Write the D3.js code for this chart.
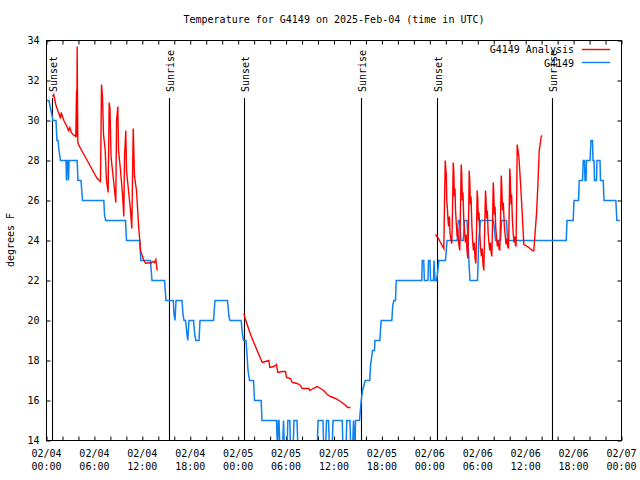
<!DOCTYPE html>
<html><head><meta charset="utf-8">
<script src="https://cdn.jsdelivr.net/npm/d3@7"></script>
<style>
body{margin:0;background:#fff}
svg text{font-family:"DejaVu Sans Mono",monospace;font-size:10px;fill:#000}
</style>
</head><body><svg id="c" width="640" height="480"></svg>
<script>
// ---- data (hours since 2025-02-04 00:00 UTC, degrees F) ----
const titleText = "Temperature for G4149 on 2025-Feb-04 (time in UTC)";
const yLabel = "degrees F";
const xMajorHours = [0,6,12,18,24,30,36,42,48,54,60,66,72];
const xTickDates = ["02/04","02/04","02/04","02/04","02/05","02/05","02/05","02/05","02/06","02/06","02/06","02/06","02/07"];
const xTickTimes = ["00:00","06:00","12:00","18:00","00:00","06:00","12:00","18:00","00:00","06:00","12:00","18:00","00:00"];
const yTicks = [14,16,18,20,22,24,26,28,30,32,34];
const sunHours = [0.75,15.28,24.79,39.32,48.84,63.24];
const sunLabels = ["Sunset","Sunrise","Sunset","Sunrise","Sunset","Sunrise"];
const seriesNames = ["G4149 Analysis","G4149"];

const observed = [[0,31],[0.31,31],[0.56,30.5],[0.81,30],[1.19,30],[1.31,29],[1.44,29],[1.57,28.5],[1.75,28],[2.44,28],[2.5,27],[2.6,28],[2.69,28],[2.75,27],[2.83,28],[2.92,28],[3.84,28],[3.94,27],[4.32,27],[4.51,26],[7.18,26],[7.26,25.3],[7.41,25],[9.89,25],[10.02,24],[11.68,24],[11.81,23],[13.02,23],[13.21,22],[14.78,22],[14.96,21],[15.87,21],[15.97,20.3],[16.09,20],[16.22,21],[16.97,21],[17.09,20.3],[17.22,20],[17.41,20],[17.59,19.3],[17.69,19],[17.84,20],[18.41,20],[18.56,19.3],[18.7,19],[19.1,19],[19.22,20],[20.91,20],[21.1,21],[22.66,21],[22.85,20.2],[22.98,20],[24.38,20],[24.54,19.3],[24.67,19],[24.98,19],[25.11,18.3],[25.23,17.5],[25.42,17],[25.92,17],[26.05,16],[26.88,16],[26.98,15],[28.8,15],[28.93,13.5],[29.03,15],[29.11,15],[29.24,13.5],[29.55,13.5],[29.68,15],[29.8,13.5],[30.12,13.5],[30.22,15],[30.47,15],[30.55,13.5],[30.87,13.5],[30.99,15],[31.37,15],[31.49,13.5],[33.9,13.5],[34.0,15],[34.62,15],[34.72,13.5],[34.94,13.5],[35.06,15],[35.31,15],[35.44,13.5],[35.75,13.5],[35.88,15],[37.03,15],[37.13,13.5],[37.5,13.5],[37.6,15],[38.0,15],[38.1,13.5],[38.32,13.5],[38.44,15],[38.63,13.5],[38.69,15],[39.19,15],[39.41,16],[39.57,16.5],[39.91,17],[40.48,17],[40.57,17.75],[40.66,18],[40.82,18.5],[41.07,18.5],[41.13,19],[41.74,19],[41.82,19.5],[41.91,20],[43.24,20],[43.36,20.75],[43.49,21],[43.7,21],[43.79,22],[46.99,22],[47.05,23],[47.24,23],[47.31,22],[47.77,22],[47.83,23],[48.02,23],[48.09,22],[48.46,22],[48.52,23],[48.65,22],[48.84,22],[49.0,22.5],[49.12,23],[49.96,23],[50.15,24],[51.43,24],[51.5,24.75],[51.59,25],[51.72,25],[51.9,24],[52.18,24],[52.34,25],[52.66,25],[52.78,24],[52.91,22.8],[53.03,22],[53.97,22],[54.13,24],[54.35,25],[55.97,25],[56.1,24.5],[56.22,24],[56.85,24],[56.98,25],[57.6,25],[57.73,24],[65.08,24],[65.18,25],[65.95,25],[66.05,26],[66.62,26],[66.71,27],[67.12,27],[67.21,28],[67.37,28],[67.43,27],[67.56,27],[67.62,28],[67.87,28],[68.06,28],[68.18,29],[68.37,29],[68.43,28],[68.56,28],[68.62,27],[68.87,27],[68.93,28],[69.31,28],[69.37,27],[69.71,27],[69.81,26],[71.29,26],[71.42,25],[71.79,25]];

const analysisDay1 = [[0.75,31.2],[0.91,31.3],[1.16,30.8],[1.41,30.5],[1.59,30.3],[1.75,30.1],[1.84,30.4],[2.0,30.2],[2.17,30.0],[2.5,29.75],[2.75,29.5],[2.92,29.65],[3.09,29.4],[3.34,29.3],[3.67,29.2],[3.76,31.5],[3.79,29.2],[3.84,33.7],[3.92,28.9],[4.26,28.6],[5.1,28.0],[5.92,27.4],[6.35,27.1],[6.76,26.95],[6.89,31.8],[7.01,31.2],[7.14,29.3],[7.35,28.5],[7.51,27.0],[7.72,26.4],[7.76,27.8],[7.85,30.9],[7.95,30.6],[8.08,28.2],[8.26,27.5],[8.45,26.8],[8.68,25.9],[8.77,30.0],[8.93,30.7],[9.02,28.5],[9.27,27.5],[9.52,26.3],[9.68,25.2],[9.77,28.2],[9.93,29.5],[10.02,27.5],[10.27,26.5],[10.52,25.5],[10.68,24.6],[10.86,29.6],[11.02,27.2],[11.27,26.5],[11.52,24.8],[11.68,24.0],[11.77,23.5],[11.98,23.25],[12.18,23.0],[12.43,22.85],[12.81,22.9],[13.02,22.85],[13.27,22.95],[13.52,22.9],[13.69,23.05],[13.86,22.5]];

const analysisDay2 = [[24.71,20.35],[24.88,20.1],[25.13,19.8],[25.55,19.3],[25.96,18.9],[26.38,18.5],[26.8,18.1],[27.01,17.9],[27.42,17.95],[27.84,18.0],[27.96,17.65],[28.46,17.7],[28.8,17.8],[28.96,17.4],[29.52,17.45],[29.93,17.45],[30.05,17.15],[30.55,17.1],[30.77,16.9],[31.39,16.85],[31.81,16.75],[32.02,16.6],[32.85,16.6],[32.97,16.5],[33.4,16.6],[33.9,16.7],[34.31,16.6],[34.72,16.5],[35.15,16.3],[35.56,16.2],[36.19,16.1],[36.81,15.95],[37.32,15.8],[37.73,15.65],[38.07,15.65]];

const analysisDay3 = [[48.71,24.3],[49.0,24.15],[49.34,23.9],[49.75,23.6],
[49.84,25.9],[49.93,28.0],[50.0,27.6],[50.06,27.3],[50.12,26.0],[50.2,25.6],[50.28,25.0],[50.35,24.7],[50.45,25.2],[50.52,24.4],[50.62,24.1],[50.75,23.85],
[50.84,25.5],[50.93,27.9],[51.0,27.5],[51.07,26.2],[51.15,26.6],[51.22,25.5],[51.32,24.8],[51.42,24.2],[51.5,24.6],[51.6,23.9],[51.75,23.5],
[51.84,25.6],[51.93,27.8],[52.0,27.3],[52.07,26.0],[52.15,26.4],[52.25,25.0],[52.35,24.5],[52.45,23.9],[52.55,24.3],[52.65,23.5],[52.76,23.1],
[52.85,25.0],[52.93,27.5],[53.0,27.0],[53.08,25.8],[53.16,26.2],[53.26,24.8],[53.36,24.0],[53.46,23.5],[53.56,23.9],[53.66,23.1],[53.76,22.85],
[53.85,24.5],[53.93,26.5],[54.0,26.1],[54.08,25.0],[54.16,25.4],[54.26,24.3],[54.36,23.6],[54.46,23.2],[54.56,23.6],[54.66,22.8],[54.76,22.5],
[54.86,24.4],[54.97,26.5],[55.04,26.0],[55.12,25.1],[55.2,25.5],[55.3,24.4],[55.4,23.9],[55.5,23.5],[55.58,23.9],[55.68,23.4],[55.76,23.2],
[55.85,24.8],[55.94,26.9],[56.0,26.5],[56.08,25.3],[56.16,25.7],[56.26,24.6],[56.36,24.1],[56.46,23.7],[56.56,24.0],[56.66,23.6],[56.76,23.5],
[56.85,25.0],[56.94,27.25],[57.0,26.8],[57.1,25.5],[57.2,25.9],[57.32,24.8],[57.45,24.2],[57.55,23.8],[57.65,24.1],[57.75,23.7],[57.85,23.6],
[57.93,25.2],[58.01,27.6],[58.08,27.1],[58.16,25.8],[58.24,26.3],[58.34,25.0],[58.45,24.3],[58.55,23.9],[58.65,24.2],[58.72,23.8],[58.79,23.7],
[58.87,26.0],[58.94,28.8],[59.15,28.2],[59.36,26.85],[59.57,25.35],[59.77,23.8],[60.4,23.65],[60.82,23.5],[61.02,23.5],[61.11,24.0],[61.36,25.35],[61.52,26.7],[61.7,28.5],[61.95,29.2],[62.07,29.25]];

// ---- drawing ----
const svg = d3.select("#c");
const L = 46.5, R = 621.5, T = 40.5, B = 440.5;
const x = d3.scaleLinear().domain([0,72]).range([L,R]);
const y = d3.scaleLinear().domain([14,34]).range([B,T]);
const minorHours = d3.range(0,73,2);

svg.append("defs").append("clipPath").attr("id","clip")
  .append("rect").attr("x",L).attr("y",T).attr("width",R-L).attr("height",B-T);

// title
svg.append("text").attr("x",(L+R)/2).attr("y",23).attr("text-anchor","middle").text(titleText);
// y label
svg.append("text").attr("transform","translate(14,240) rotate(-90)").attr("text-anchor","middle").text(yLabel);

// axes
const axB = d3.axisBottom(x).tickValues(minorHours).tickSizeInner(-4).tickSizeOuter(0).tickFormat("");
const axT = d3.axisTop(x).tickValues(minorHours).tickSizeInner(-4).tickSizeOuter(0).tickFormat("");
const axL = d3.axisLeft(y).tickValues(yTicks).tickSizeInner(-4).tickSizeOuter(0).tickPadding(7).tickFormat(d3.format("d"));
const axR = d3.axisRight(y).tickValues(yTicks).tickSizeInner(-4).tickSizeOuter(0).tickFormat("");
function styleAxis(g){ g.select(".domain").remove(); g.selectAll("line").attr("stroke","#000"); g.selectAll("text").attr("font-family",null).attr("font-size",null).attr("fill","#000"); }
svg.append("g").attr("transform",`translate(0,${B})`).call(axB).call(styleAxis);
svg.append("g").attr("transform",`translate(0,${T})`).call(axT).call(styleAxis);
svg.append("g").attr("transform",`translate(${L},0)`).call(axL).call(styleAxis);
svg.append("g").attr("transform",`translate(${R},0)`).call(axR).call(styleAxis);

// x labels (two lines)
const xl = svg.append("g");
xMajorHours.forEach((h,i)=>{
  const t = xl.append("text").attr("text-anchor","middle");
  t.append("tspan").attr("x",x(h)).attr("y",457).text(xTickDates[i]);
  t.append("tspan").attr("x",x(h)).attr("y",470).text(xTickTimes[i]);
});

// sunrise / sunset
sunHours.forEach((h,i)=>{
  const xx = Math.round(x(h)) + 0.5;
  svg.append("line").attr("x1",xx).attr("x2",xx).attr("y1",98).attr("y2",B).attr("stroke","#000").attr("stroke-width",1.1);
  svg.append("text").attr("transform",`translate(${xx+4.5},92) rotate(-90)`).attr("text-anchor","start").text(sunLabels[i]);
});

// series
const line = d3.line().x(d=>x(d[0])).y(d=>y(d[1]));
const plot = svg.append("g").attr("clip-path","url(#clip)");
const blue = "#0d80f2", red = "#ff0000";
plot.append("path").datum(observed).attr("d",line).attr("fill","none").attr("stroke",blue).attr("stroke-width",1.5);
[analysisDay1,analysisDay2,analysisDay3].forEach(seg=>{
  plot.append("path").datum(seg).attr("d",line).attr("fill","none").attr("stroke",red).attr("stroke-width",1.4);
});

// border
svg.append("rect").attr("x",L).attr("y",T).attr("width",R-L).attr("height",B-T).attr("fill","none").attr("stroke","#000").attr("stroke-width",1);

// legend
const leg = svg.append("g");
[[seriesNames[0],red,53,49.5],[seriesNames[1],blue,67,62.5]].forEach(([name,c,ty,ly])=>{
  leg.append("text").attr("x",574).attr("y",ty).attr("text-anchor","end").text(name);
  leg.append("line").attr("x1",582).attr("x2",610).attr("y1",ly).attr("y2",ly).attr("stroke",c).attr("stroke-width",1.4);
});
</script></body></html>
